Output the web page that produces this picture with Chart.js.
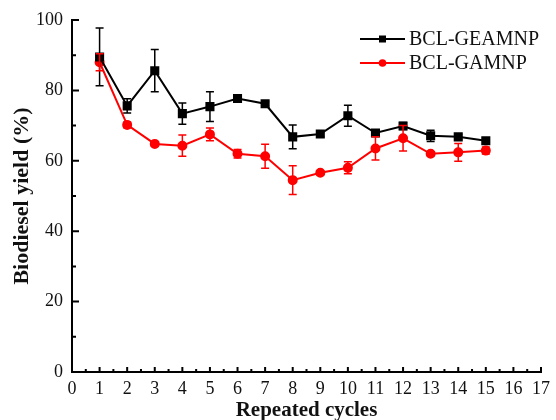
<!DOCTYPE html>
<html>
<head>
<meta charset="utf-8">
<script src="https://cdn.jsdelivr.net/npm/chart.js@4/dist/chart.umd.min.js"></script>
<style>
  body { margin: 0; background: #fff; }
  #wrap { width: 556px; height: 420px; }
</style>
</head>
<body>
<div id="wrap"><canvas id="myChart" width="556" height="420"></canvas></div>
<script>
const cycles = [1, 2, 3, 4, 5, 6, 7, 8, 9, 10, 11, 12, 13, 14, 15];
const geamnpYield = [89.5, 75.6, 85.6, 73.4, 75.4, 77.7, 76.2, 66.8, 67.6, 72.8, 67.9, 69.9, 67.1, 66.8, 65.7];
const geamnpErr = [8.2, 2.0, 6.0, 3.0, 4.2, 0.7, 0.6, 3.4, 0.8, 3.0, 0.8, 1.0, 1.6, 0.7, 0.8];
const gamnpYield = [88.0, 70.2, 64.8, 64.3, 67.5, 62.0, 61.3, 54.5, 56.6, 58.0, 63.5, 66.4, 62.0, 62.4, 62.9];
const gamnpErr = [2.4, 0.8, 0.6, 3.0, 1.8, 1.2, 3.4, 4.1, 0.6, 1.7, 3.3, 3.6, 0.6, 2.5, 1.0];
const xTicks = [0, 1, 2, 3, 4, 5, 6, 7, 8, 9, 10, 11, 12, 13, 14, 15, 16, 17];
const yTicks = [0, 20, 40, 60, 80, 100];

const serif = "'Liberation Serif', 'Times New Roman', serif";

// error bars + inward tick marks + legend inside the plot
const extras = {
    id: 'extras',
    afterDatasetsDraw(chart) {
        const ctx = chart.ctx;
        const xs = chart.scales.x, ys = chart.scales.y;
        const errs = [geamnpErr, gamnpErr];
        chart.data.datasets.forEach((ds, i) => {
            ctx.save();
            ctx.strokeStyle = ds.borderColor;
            ctx.lineWidth = 1.5;
            ds.data.forEach((p, j) => {
                const px = xs.getPixelForValue(p.x);
                const top = ys.getPixelForValue(p.y + errs[i][j]);
                const bot = ys.getPixelForValue(p.y - errs[i][j]);
                ctx.beginPath();
                ctx.moveTo(px, top); ctx.lineTo(px, bot);
                ctx.moveTo(px - 4, top); ctx.lineTo(px + 4, top);
                ctx.moveTo(px - 4, bot); ctx.lineTo(px + 4, bot);
                ctx.stroke();
            });
            ctx.restore();
        });

        // ticks pointing inward
        const area = chart.chartArea;
        ctx.save();
        ctx.strokeStyle = '#000';
        ctx.lineWidth = 2;
        ctx.beginPath();
        for (let v = 0; v <= 17; v += 0.5) {
            const px = xs.getPixelForValue(v);
            const len = Number.isInteger(v) ? 5 : 3;
            ctx.moveTo(px, area.bottom); ctx.lineTo(px, area.bottom - len);
        }
        for (let v = 0; v <= 100; v += 10) {
            const py = ys.getPixelForValue(v);
            const len = v % 20 === 0 ? 7 : 4;
            ctx.moveTo(area.left, py); ctx.lineTo(area.left + len, py);
        }
        ctx.stroke();

        // legend
        ctx.font = '20px ' + serif;
        ctx.textBaseline = 'middle';
        chart.data.datasets.forEach((ds, i) => {
            const y = 39 + i * 24;
            ctx.strokeStyle = ds.borderColor;
            ctx.fillStyle = ds.borderColor;
            ctx.lineWidth = 2;
            ctx.beginPath();
            ctx.moveTo(360, y); ctx.lineTo(405, y);
            ctx.stroke();
            if (ds.pointStyle === 'rect') {
                ctx.fillRect(379, y - 3.5, 7, 7);
            } else {
                ctx.beginPath();
                ctx.arc(382.5, y, 3.8, 0, Math.PI * 2);
                ctx.fill();
            }
            ctx.fillStyle = '#111';
            ctx.fillText(ds.label, 409, y + 1);
        });
        ctx.restore();
    }
};

const ctx = document.getElementById('myChart').getContext('2d');
const chart = new Chart(ctx, {
    type: 'line',
    data: {
        datasets: [{
            label: 'BCL-GEAMNP',
            data: cycles.map((c, i) => ({ x: c, y: geamnpYield[i] })),
            borderColor: '#000000',
            backgroundColor: '#000000',
            borderWidth: 2,
            pointStyle: 'rect',
            pointRadius: 5,
            tension: 0
        }, {
            label: 'BCL-GAMNP',
            data: cycles.map((c, i) => ({ x: c, y: gamnpYield[i] })),
            borderColor: '#ff0000',
            backgroundColor: '#ff0000',
            borderWidth: 2,
            pointStyle: 'circle',
            pointRadius: 4,
            tension: 0
        }]
    },
    options: {
        responsive: false,
        animation: false,
        layout: { padding: { top: 20, right: 9, left: 0, bottom: 0 } },
        plugins: { legend: { display: false }, tooltip: { enabled: false } },
        scales: {
            x: {
                type: 'linear',
                min: 0, max: 17,
                afterBuildTicks: s => { s.ticks = xTicks.map(v => ({ value: v })); },
                afterFit: s => { s.height = 48; },
                grid: { display: false, drawTicks: false },
                border: { display: true, color: '#000', width: 2 },
                ticks: { color: '#111', font: { family: serif, size: 18 }, padding: 6, maxRotation: 0, autoSkip: false },
                title: { display: true, text: 'Repeated cycles', color: '#111', font: { family: serif, size: 21, weight: 'bold' }, padding: { top: 0, bottom: -3 } }
            },
            y: {
                min: 0, max: 100,
                afterBuildTicks: s => { s.ticks = yTicks.map(v => ({ value: v })); },
                afterFit: s => { s.width = 72; },
                grid: { display: false, drawTicks: false },
                border: { display: true, color: '#000', width: 2 },
                ticks: { color: '#111', font: { family: serif, size: 18 }, padding: 9 },
                title: { display: true, text: 'Biodiesel yield (%)', color: '#111', font: { family: serif, size: 22, weight: 'bold' }, padding: { top: 9, bottom: 0 } }
            }
        }
    },
    plugins: [extras]
});
</script>
</body>
</html>
